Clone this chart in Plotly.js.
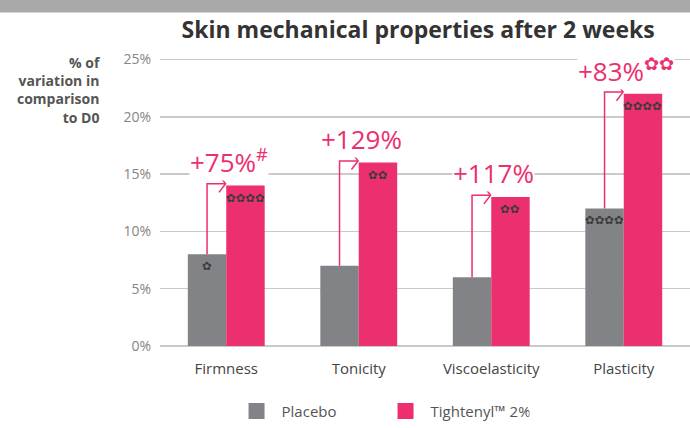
<!DOCTYPE html>
<html>
<head>
<meta charset="utf-8">
<script src="https://cdn.plot.ly/plotly-3.0.1.min.js"></script>
<style>html,body{margin:0;padding:0;background:#fff;}#chart{width:690px;height:428px;}</style>
</head>
<body>
<div id="chart"></div>
<script>
// ---- data ----
const categories = ['Firmness', 'Tonicity', 'Viscoelasticity', 'Plasticity'];
const placebo = [8, 7, 6, 12];
const tightenyl = [14, 16, 13, 22];
const placeboStars = [1, 0, 0, 4];
const tightenylStars = [4, 2, 2, 4];
const gainLabels = ['+75%<sup>#</sup>', '+129%', '+117%', '+83%<sup>✿✿</sup>'];
const yTickVals = [0, 5, 10, 15, 20, 25];
const yTickText = ['0%', '5%', '10%', '15%', '20%', '25%'];
const seriesNames = ['Placebo', 'Tightenyl™ 2%'];

// ---- style ----
const GRAY = '#818386';
const PINK = '#ec2f6e';
const BARGAP = 0.42;
const FONT = 'Open Sans, Lato, sans-serif';
const half = (1 - BARGAP) / 4; // offset of each bar centre from category centre

const traces = [
  {type: 'bar', name: seriesNames[0], x: categories, y: placebo, marker: {color: GRAY},
   showlegend: false, hoverinfo: 'skip'},
  {type: 'bar', name: seriesNames[1], x: categories, y: tightenyl, marker: {color: PINK},
   showlegend: false, hoverinfo: 'skip'},
  // legend entries (larger square swatches)
  {type: 'scatter', mode: 'markers', name: seriesNames[0], x: [null], y: [null],
   marker: {symbol: 'square', size: 16, color: GRAY}, showlegend: true, hoverinfo: 'skip'},
  {type: 'scatter', mode: 'markers', name: seriesNames[1], x: [null], y: [null],
   marker: {symbol: 'square', size: 16, color: PINK}, showlegend: true, hoverinfo: 'skip'}
];

const shapes = [
  // top grey band
  {type: 'rect', xref: 'paper', yref: 'paper', x0: -0.35, x1: 1.05, y0: 1.15, y1: 1.25,
   fillcolor: '#a9a9a9', line: {width: 0}, layer: 'below'}
];
const annotations = [];

function starNote(x, y, n) {
  if (n <= 0) return;
  annotations.push({
    x: x, y: y, xref: 'x', yref: 'y', text: '✿'.repeat(n), showarrow: false,
    font: {family: 'DejaVu Sans', size: 11.5, color: '#3a3a3a'}
  });
}

categories.forEach((c, i) => {
  const xs = i - half;            // placebo bar centre
  const ya = tightenyl[i] + 0.15; // arrow level
  shapes.push({
    type: 'path', xref: 'x', yref: 'y',
    path: `M ${xs} ${placebo[i]} L ${xs} ${ya} L ${i - 0.005} ${ya}`,
    line: {color: PINK, width: 1.5}
  });
  shapes.push({
    type: 'path', xref: 'x', yref: 'y',
    path: `M ${i - 0.055} ${ya + 0.75} L ${i - 0.005} ${ya} L ${i - 0.055} ${ya - 0.75}`,
    line: {color: PINK, width: 1.5}
  });
  annotations.push({
    x: i + 0.02, y: tightenyl[i] + 2.1, xref: 'x', yref: 'y',
    text: gainLabels[i], showarrow: false,
    font: {family: FONT, size: 26, color: PINK},
    bgcolor: '#ffffff', borderpad: 0
  });
  starNote(i - half, placebo[i] - 1.0, placeboStars[i]);
  starNote(i + half, tightenyl[i] - 1.05, tightenylStars[i]);
});

annotations.push({
  xref: 'paper', yref: 'paper', x: -0.108, y: 1.018, xanchor: 'right', yanchor: 'top',
  text: '<b>% of<br>variation in<br>comparison<br>to D0</b>', align: 'right', showarrow: false,
  font: {family: FONT, size: 14, color: '#555'}
});

const layout = {
  width: 690, height: 428,
  margin: {l: 160, r: 0, t: 56, b: 79},
  paper_bgcolor: '#fff', plot_bgcolor: '#fff',
  font: {family: FONT},
  title: {
    text: '<b>Skin mechanical properties after 2 weeks</b>',
    x: 0.606, xanchor: 'center', y: 0.93, yanchor: 'middle',
    font: {family: FONT, size: 23, color: '#333'}
  },
  barmode: 'group', bargap: BARGAP, bargroupgap: 0,
  xaxis: {
    type: 'category', range: [-0.5, 3.5], showgrid: false, showline: false,
    ticks: '', ticklabelstandoff: 12,
    tickfont: {family: FONT, size: 15, color: '#444'}, fixedrange: true
  },
  yaxis: {
    range: [0, 25.3], tickvals: yTickVals, ticktext: yTickText,
    showgrid: true, gridcolor: '#cacaca', gridwidth: 1.5,
    zeroline: true, zerolinecolor: '#cacaca', zerolinewidth: 1.5,
    showline: false, ticks: '', ticklabelstandoff: 8,
    tickfont: {family: FONT, size: 14, color: '#858585'}, fixedrange: true
  },
  legend: {
    orientation: 'h', x: 0.135, xanchor: 'left', y: -0.225, yanchor: 'middle',
    font: {family: FONT, size: 15, color: '#555'}, itemwidth: 40,
    entrywidth: 94, entrywidthmode: 'pixels', traceorder: 'normal'
  },
  shapes: shapes,
  annotations: annotations,
  showlegend: true
};

Plotly.newPlot('chart', traces, layout, {displayModeBar: false, staticPlot: true});
</script>
</body>
</html>
